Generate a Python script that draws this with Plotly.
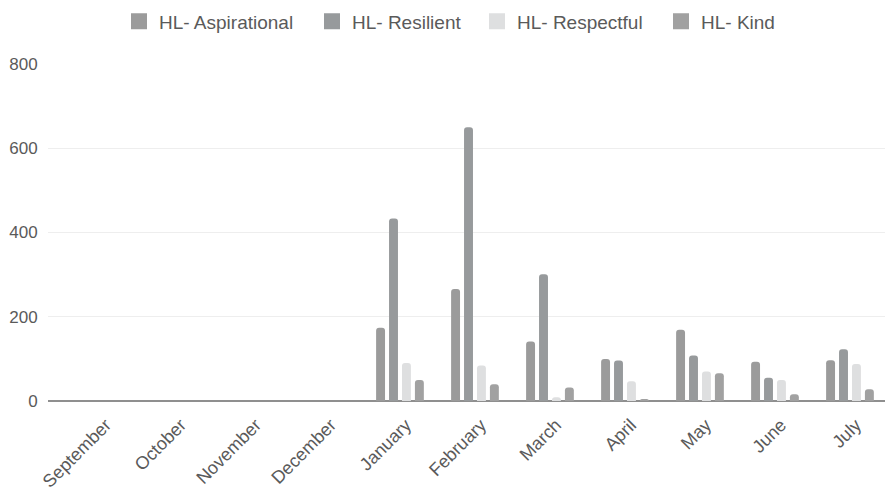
import plotly.graph_objects as go

months = ["September", "October", "November", "December", "January", "February",
          "March", "April", "May", "June", "July"]

aspirational = [0, 0, 0, 0, 174, 266, 141, 100, 169, 93, 97]
resilient = [0, 0, 0, 0, 433, 650, 301, 96, 108, 55, 123]
respectful = [0, 0, 0, 0, 90, 84, 9, 47, 70, 50, 88]
kind = [0, 0, 0, 0, 50, 40, 32, 5, 66, 16, 28]

y_ticks = [0, 200, 400, 600, 800]

series = [
    ("HL- Aspirational", aspirational, "#9b9b9b"),
    ("HL- Resilient", resilient, "#979a9c"),
    ("HL- Respectful", respectful, "#dedfe0"),
    ("HL- Kind", kind, "#a1a1a1"),
]

# left edge (px) of each legend entry across the top
legend_left = [119, 312, 477, 661]

text_color = "#5a5a5a"

fig = go.Figure()
for name, vals, color in series:
    fig.add_trace(go.Bar(
        name=name, x=months, y=vals, showlegend=False,
        marker=dict(color=color, line=dict(width=0)),
    ))

# square swatches for the legend, one legend box per series
legend_layout = {}
for i, (name, vals, color) in enumerate(series):
    key = "legend" if i == 0 else f"legend{i + 1}"
    fig.add_trace(go.Scatter(
        name=name, x=[None], y=[None], mode="markers",
        marker=dict(symbol="square", size=16, color=color),
        legend=key, showlegend=True,
    ))
    legend_layout[key] = dict(
        orientation="h", x=legend_left[i] / 885, xanchor="left",
        xref="container", y=0.995, yanchor="top", yref="container",
        font=dict(size=19, color=text_color), itemwidth=30,
        bgcolor="rgba(0,0,0,0)",
    )

fig.update_layout(
    width=885, height=491,
    margin=dict(l=48, r=0, t=64, b=90),
    paper_bgcolor="white", plot_bgcolor="white",
    barmode="group", bargap=0.31, bargroupgap=0.31,
    barcornerradius=3,
    font=dict(family="Liberation Sans, Arial, sans-serif", size=17, color=text_color),
    **legend_layout,
)

fig.update_xaxes(
    type="category", range=[-0.693, 10.467],
    tickangle=-45, showgrid=False, showline=False, zeroline=False,
    ticks="", tickfont=dict(size=18, color=text_color),
    ticklabelstandoff=9, ticklabelshift=6,
)
fig.update_yaxes(
    range=[0, 800], tickvals=y_ticks, showgrid=True, gridcolor="#eeeeee",
    gridwidth=1, zeroline=True, zerolinecolor="#8f8f8f", zerolinewidth=1.5,
    showline=False, ticks="outside", ticklen=6, tickcolor="rgba(0,0,0,0)",
    tickfont=dict(size=17, color=text_color),
)

fig.write_html("out.html")
